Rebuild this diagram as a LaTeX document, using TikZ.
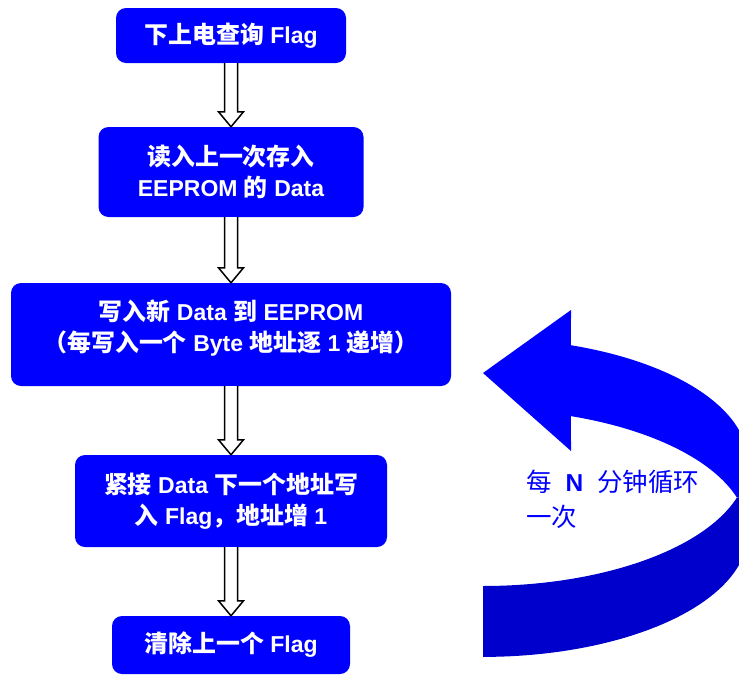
\documentclass[tikz,border=0pt]{standalone}
\usepackage{fontspec}
\setmainfont{Liberation Sans}
\newfontfamily\cjk{Noto Sans CJK SC}[Scale=1.04]
\usetikzlibrary{calc}
\definecolor{boxblue}{RGB}{0,0,255}
\definecolor{darkblue}{RGB}{0,0,204}
\newcommand\zh[1]{{\cjk #1}}
\begin{document}
\begin{tikzpicture}[x=1pt,y=-1pt,
  flowbox/.style={fill=boxblue, rounded corners=10pt, text=white,
    font=\bfseries\fontsize{23}{31}\selectfont, align=center, inner sep=0pt},
  hollow/.style={draw=black, fill=white, line width=1.5pt, line join=miter},
  looptext/.style={text=boxblue, font=\fontsize{24.5}{35}\selectfont, align=left, anchor=west, inner sep=0pt}]
\useasboundingbox (0,0) rectangle (739,675);
\clip (0,0) rectangle (739,675);

% flow boxes
\node[flowbox, minimum width=230pt, minimum height=55pt] (b1) at (231,35.5) {\zh{下上电查询} Flag};
\node[flowbox, minimum width=265pt, minimum height=90pt] (b2) at (231,172) {\zh{读入上一次存入}\\EEPROM \zh{的} Data};
\node[flowbox, minimum width=440pt, minimum height=103pt] (b3) at (231,334.5) {\zh{写入新} Data \zh{到} EEPROM\\\zh{（每写入一个} Byte \zh{地址逐} 1 \zh{递增）}\rule[-18pt]{0pt}{18pt}};
\node[flowbox, minimum width=312pt, minimum height=92pt] (b4) at (231,501) {\zh{紧接} Data \zh{下一个地址写}\\\zh{入} Flag\zh{，地址增} 1};
\node[flowbox, minimum width=238pt, minimum height=58pt] (b5) at (231,645) {\zh{清除上一个} Flag};

% hollow arrows between boxes
\foreach \a/\b in {b1/b2, b2/b3, b3/b4, b4/b5}{
  \filldraw[hollow] ($(\a.south)+(-6.5,0)$) -- ($(\b.north)+(-6.5,-15)$) -- ($(\b.north)+(-12.5,-15)$)
    -- (\b.north) -- ($(\b.north)+(12.5,-15)$) -- ($(\b.north)+(6.5,-15)$) -- ($(\a.south)+(6.5,0)$);
}

% curved loop arrow: lower (darker) band
\fill[darkblue] (736.9,497.55) -- (748,497.55) -- (748,533)
  -- plot[domain=0:90, samples=60] ({483+265*cos(\x)},{533+123.9*sin(\x)})
  -- plot[domain=90:16.63, samples=60] ({483+265*cos(\x)},{462.1+123.9*sin(\x)}) -- cycle;
% upper band with arrow head
\fill[boxblue] plot[domain=-70.61:0, samples=60] ({483+265*cos(\x)},{462.1+123.9*sin(\x)})
  -- (748,497.55) -- (736.9,497.55)
  -- plot[domain=-16.63:-70.61, samples=60] ({483+265*cos(\x)},{533+123.9*sin(\x)})
  -- (571,451) -- (483,373) -- (571,310) -- cycle;

\node[looptext] (lt) at (526,499.5) {\zh{每}\hspace{14pt}\textbf{N}\hspace{14pt}\zh{分钟循环}\\\zh{一次}};
\end{tikzpicture}
\end{document}
